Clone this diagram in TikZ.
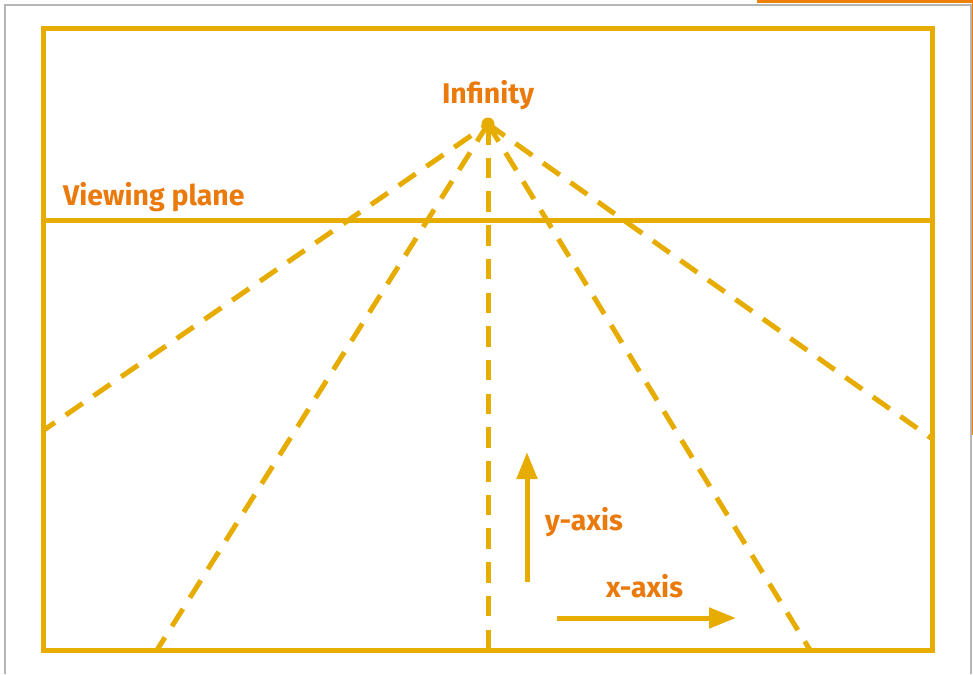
\documentclass[tikz,border=0pt]{standalone}
\usepackage{fontspec}
\setmainfont{Fira Sans}
\usetikzlibrary{arrows.meta}
\definecolor{gold}{RGB}{230,172,0}
\definecolor{txtorange}{RGB}{234,122,12}
\definecolor{barorange}{RGB}{238,128,8}
\definecolor{pagegray}{RGB}{182,182,182}
\tikzset{
  frameline/.style={draw=gold, line width=5pt},
  rayline/.style={draw=gold, line width=5pt, dash pattern=on 20.5pt off 13.2pt},
  axisarrow/.style={draw=gold, line width=5pt, -{Triangle[length=27pt,width=20pt]}},
  lbl/.style={text=txtorange, font=\fontsize{28.5}{33}\selectfont\bfseries, inner sep=0pt},
}
\begin{document}
\begin{tikzpicture}[x=1pt,y=-1pt]
\useasboundingbox (0,0) rectangle (973,674);
% page edges
\draw[pagegray, line width=1.5pt] (5,674) -- (5,5) -- (971,5) -- (971,674);
\fill[barorange] (757,0) rectangle (973,3);
\fill[barorange] (971.5,0) rectangle (973,435);
% frame
\draw[frameline] (43.5,28.5) rectangle (932.5,650);
\coordinate (vl) at (43.5,220.5);
\coordinate (vr) at (932.5,220.5);
\draw[frameline] (vl) -- (vr);
% apex
\coordinate (apex) at (488,124);
\coordinate (e1) at (44,430);
\coordinate (e2) at (157,650);
\coordinate (e3) at (488,650);
\coordinate (e4) at (810,650);
\coordinate (e5) at (931,438);
\draw[rayline, dash phase=13.2pt] (apex) -- (e1);
\foreach \e in {e2,e3,e4,e5} \draw[rayline] (apex) -- (\e);
\fill[gold] (apex) circle (6.5);
% axes
\coordinate (yb) at (527,582);
\coordinate (yt) at (527,452);
\coordinate (xb) at (557,618);
\coordinate (xt) at (736,618);
\draw[axisarrow] (yb) -- (yt);
\draw[axisarrow] (xb) -- (xt);
% labels
\node[lbl, anchor=base] (inf) at (488,103) {Infinity};
\node[lbl, anchor=base west] (vp) at (63,205) {Viewing plane};
\node[lbl, anchor=base west] (ya) at (545,530) {y-axis};
\node[lbl, anchor=base west] (xa) at (606,597) {x-axis};
\end{tikzpicture}
\end{document}
